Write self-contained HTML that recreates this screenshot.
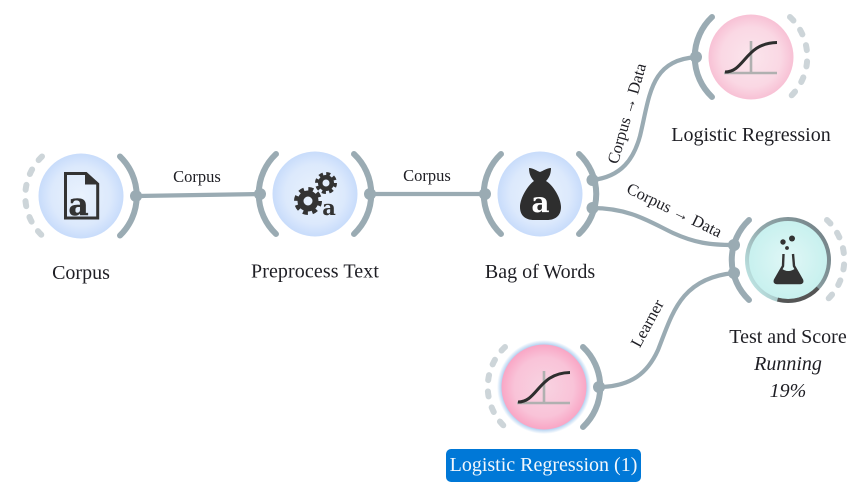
<!DOCTYPE html>
<html><head><meta charset="utf-8"><style>
html,body{margin:0;padding:0;background:#fff;width:865px;height:484px;overflow:hidden}
svg{display:block}
text{font-family:"Liberation Serif",serif;fill:#1e1e24}
.n{font-size:20px;text-anchor:middle}
.l{font-size:16.5px;text-anchor:middle}
.k{fill:none;stroke:#9aabb3;stroke-width:4.2}
.a{fill:none;stroke:#9aabb3;stroke-width:6;stroke-linecap:round}
.d{fill:none;stroke:#cdd5d9;stroke-width:6;stroke-linecap:round;stroke-dasharray:5 11.4}
.p{fill:#9aabb3}
.i{font-family:"DejaVu Serif",serif;font-weight:bold;text-anchor:middle}
</style></head><body>
<svg width="865" height="484" viewBox="0 0 865 484" xmlns="http://www.w3.org/2000/svg">
<defs>
<radialGradient id="b"><stop offset="0" stop-color="#e9f2fd"/><stop offset=".7" stop-color="#dce9fc"/><stop offset="1" stop-color="#c8dcfb"/></radialGradient>
<radialGradient id="r"><stop offset="0" stop-color="#fbe5ec"/><stop offset=".7" stop-color="#fad8e4"/><stop offset="1" stop-color="#f8c1d5"/></radialGradient>
<radialGradient id="s"><stop offset="0" stop-color="#f8d3e1"/><stop offset=".7" stop-color="#f9c3d8"/><stop offset="1" stop-color="#f9a6c5"/></radialGradient>
<radialGradient id="t"><stop offset="0" stop-color="#e0f7f6"/><stop offset="1" stop-color="#c6f0ee"/></radialGradient>
<radialGradient id="g"><stop offset=".88" stop-color="#a3c8ee"/><stop offset="1" stop-color="#a3c8ee" stop-opacity="0"/></radialGradient>
<linearGradient id="rg" x1="1" y1="0.3" x2="0" y2="0.9"><stop offset="0" stop-color="#76858a"/><stop offset=".55" stop-color="#93aaad"/><stop offset="1" stop-color="#c6f0ee"/></linearGradient>
</defs>

<!-- links -->
<path class="k" d="M137,196 L262,194"/>
<path class="k" d="M369,194 L485,194"/>
<path class="k" d="M592,180 C622,177 634,158 640,136 C650,95 650,60 697,57"/>
<path class="k" d="M592,208 C630,208 650,222 673,233 C695,243 710,245 734,245"/>
<path class="k" d="M598,387 C632,387 648,372 658,350 C672,315 680,278 734,273"/>

<!-- link labels -->
<text class="l" x="197" y="182">Corpus</text>
<text class="l" x="427" y="181">Corpus</text>
<text class="l" transform="translate(632,115) rotate(-74)">Corpus → Data</text>
<text class="l" transform="translate(672,215) rotate(26)">Corpus → Data</text>
<text class="l" transform="translate(652,326) rotate(-61.5)">Learner</text>

<!-- Corpus -->
<circle cx="81" cy="196" r="42.5" fill="url(#b)"/>
<path class="a" d="M120,156.5 A55,55 0 0 1 120,235.5"/>
<path class="d" d="M42,156.5 A55,55 0 0 0 42,235.5"/>
<circle class="p" cx="136" cy="196" r="6"/>
<path d="M65.5,173.5 H86 L97.7,184 V218 H65.5 Z" fill="none" stroke="#333" stroke-width="3"/>
<path d="M85,172.5 L98.5,184.5 H85 Z" fill="#333"/>
<text class="i" x="78.5" y="215" style="font-size:31px;fill:#333;stroke:#333;stroke-width:.5">a</text>
<text class="n" x="81" y="279">Corpus</text>

<!-- Preprocess -->
<circle cx="315" cy="194" r="42.5" fill="url(#b)"/>
<path class="a" d="M276,154 A55,55 0 0 0 276,234"/>
<path class="a" d="M354,154 A55,55 0 0 1 354,234"/>
<circle class="p" cx="260" cy="194" r="6"/>
<circle class="p" cx="370" cy="194" r="6"/>
<g fill="none" stroke="#333">
<circle cx="308" cy="201" r="7.5" stroke-width="6"/>
<circle cx="308" cy="201" r="12" stroke-width="4" stroke-dasharray="5 4.42"/>
<circle cx="326" cy="183" r="5.75" stroke-width="4.5"/>
<circle cx="326" cy="183" r="9.25" stroke-width="3.5" stroke-dasharray="4 3.26"/>
</g>
<text class="i" x="329" y="215" style="font-size:21px;fill:#333">a</text>
<text class="n" x="315" y="277.5" style="letter-spacing:.1px">Preprocess Text</text>

<!-- Bag -->
<circle cx="540" cy="194" r="42.5" fill="url(#b)"/>
<path class="a" d="M501,154 A55,55 0 0 0 501,234"/>
<path class="a" d="M579,154 A55,55 0 0 1 579,234"/>
<circle class="p" cx="485" cy="194" r="6"/>
<circle class="p" cx="592.5" cy="180" r="6"/>
<circle class="p" cx="592.5" cy="208" r="6"/>
<path d="M529,168 C533,168 537,171 540,172 C543,171 547,168 551,168 C551,174 549,178 546,181 C553,185 561,198 561,207 C561,216 555,220 547,220 H534 C526,220 520,216 520,207 C520,198 528,185 534,181 C531,178 529,174 529,168 Z" fill="#2e2e2e"/>
<text class="i" x="540.5" y="212" style="font-size:28px;fill:#fff">a</text>
<text class="n" x="540" y="278">Bag of Words</text>

<!-- Logistic Regression -->
<circle cx="751" cy="57" r="42.5" fill="url(#r)"/>
<path class="a" d="M712,17 A55,55 0 0 0 712,97"/>
<path class="d" d="M790,17 A55,55 0 0 1 790,97"/>
<circle class="p" cx="696" cy="57" r="6"/>
<g fill="none">
<path d="M724,73 H777 M751,41 V73" stroke="#b0b0b0" stroke-width="2.6"/>
<path d="M725,72 C745,72 745,43 777,42.5" stroke="#2e2e2e" stroke-width="3"/>
</g>
<text class="n" x="751" y="141">Logistic Regression</text>

<!-- Test and Score -->
<circle cx="788" cy="260" r="42" fill="url(#t)"/>
<circle cx="788" cy="260" r="41" fill="none" stroke="url(#rg)" stroke-width="4"/>
<path d="M777.5,299.6 A41,41 0 0 0 818,288" fill="none" stroke="#555" stroke-width="4"/>
<path class="a" d="M749,220 A55,55 0 0 0 749,300"/>
<path class="d" d="M827,220 A55,55 0 0 1 827,300"/>
<circle class="p" cx="734" cy="245" r="6"/>
<circle class="p" cx="734" cy="273" r="6"/>
<path d="M783.5,254 L783,266 L775,280 Q774,283 777,283 H800 Q803,283 802,280 L794,266 L793,254" fill="none" stroke="#333" stroke-width="2.4"/>
<path d="M781,268 Q788,274 796,268 L802,280 Q803,283 800,283 H777 Q774,283 775,280 Z" fill="#333"/>
<circle cx="792" cy="238.500" r="3" fill="#333"/>
<circle cx="783" cy="242" r="2.700" fill="#333"/>
<circle cx="787" cy="248" r="1.900" fill="#333"/>
<text class="n" x="788" y="343">Test and Score</text>
<text class="n" x="788" y="370" font-style="italic">Running</text>
<text class="n" x="788" y="397" font-style="italic">19%</text>

<!-- Logistic Regression (1) -->
<circle cx="544" cy="387" r="47" fill="url(#g)"/>
<circle cx="544" cy="387" r="42.5" fill="url(#s)"/>
<path class="a" d="M583,347 A55,55 0 0 1 583,427"/>
<path class="d" d="M505,347 A55,55 0 0 0 505,427"/>
<circle class="p" cx="599" cy="387" r="6"/>
<g transform="translate(-207,330)" fill="none">
<path d="M724,73 H777 M751,41 V73" stroke="#b0b0b0" stroke-width="2.6"/>
<path d="M725,72 C745,72 745,43 777,42.5" stroke="#2e2e2e" stroke-width="3"/>
</g>
<rect x="446" y="449" width="195" height="33" rx="5" fill="#0078d7"/>
<text class="n" x="543.5" y="471" style="fill:#f2f7fc">Logistic Regression (1)</text>
</svg>
</body></html>
